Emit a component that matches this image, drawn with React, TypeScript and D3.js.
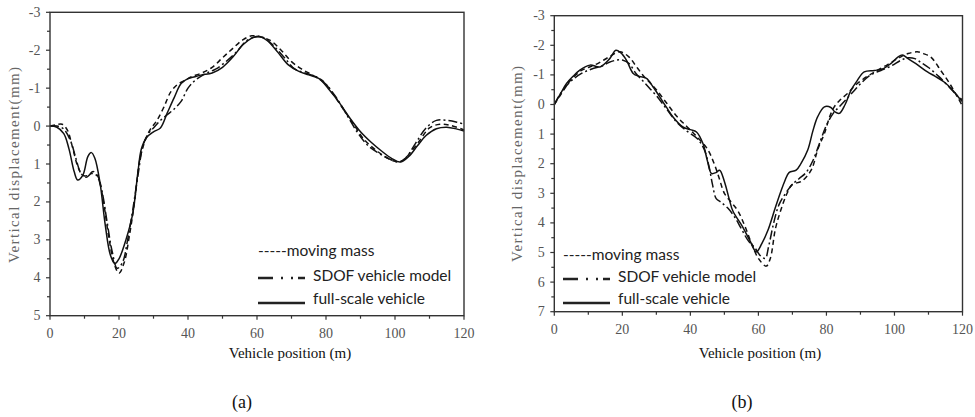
import React from "react";
import * as d3 from "d3";

// ---------- data (a) ----------
const aFullX = [0,2,4,5.5,7,8,9.5,11,12,13,14.5,16,17.5,18.8,20,22,24,25.5,26.5,28,30,32,34,36,38,40,42,44,47,50,53,56,58.5,60.5,63,66,69,72,75,78,81,84,87,90,93,96,99,101.5,104,106.5,109,112,115,118,120];
const aFullY = [0,0.03,0.2,0.6,1.2,1.42,1.3,0.8,0.7,0.85,1.5,2.6,3.4,3.63,3.5,3.0,2.3,1.2,0.6,0.3,0.15,0.05,-0.35,-0.75,-1.12,-1.25,-1.3,-1.35,-1.4,-1.55,-1.82,-2.15,-2.32,-2.37,-2.25,-1.95,-1.62,-1.45,-1.35,-1.25,-0.95,-0.6,-0.2,0.15,0.42,0.65,0.85,0.95,0.8,0.52,0.25,0.07,0.03,0.08,0.13];

const aMassX = [0,2,3.5,5,6.5,8,9.5,11,12.5,14,15.5,17,18.5,20,21.5,23,24.5,26,27.5,29,31,33,35,37,39,41,44,47,50,53,56,58.5,61,64,67,70,73,76,79,82,85,88,91,94,97,100,102,104,107,110,113,116,120];
const aMassY = [0,-0.04,-0.05,0.1,0.55,1.05,1.3,1.3,1.2,1.35,2.0,2.9,3.6,3.88,3.6,2.9,2.0,0.9,0.4,0.1,-0.15,-0.5,-0.9,-1.1,-1.2,-1.3,-1.4,-1.55,-1.8,-2.05,-2.28,-2.38,-2.35,-2.25,-2.0,-1.7,-1.5,-1.35,-1.2,-0.85,-0.45,-0.05,0.35,0.6,0.8,0.93,0.92,0.75,0.4,0.05,-0.05,-0.02,0.1];

const aSdofX = [0,2,4,6,7.5,9,10.5,12,13.5,15,16.5,18,19.5,21,22.5,24,25.5,27,28.5,30,32,34,36,38,40,42,45,48,51,54,57,59.5,62,65,68,71,74,77,80,83,86,89,92,95,98,101,103,106,109,112,115,118,120];
const aSdofY = [0,0,0.08,0.4,0.85,1.25,1.35,1.25,1.3,1.7,2.5,3.3,3.75,3.6,3.0,2.2,1.3,0.5,0.2,0.05,-0.15,-0.3,-0.45,-0.65,-1.0,-1.2,-1.38,-1.5,-1.7,-1.95,-2.25,-2.35,-2.33,-2.1,-1.8,-1.5,-1.4,-1.3,-1.1,-0.75,-0.3,0.15,0.5,0.7,0.85,0.95,0.85,0.45,0.05,-0.15,-0.15,-0.1,-0.05];

// ---------- data (b) ----------
const bFullX = [0,2,3.6,5.5,7.5,10.5,13.4,16.3,18.1,19.5,21.2,23.2,25,27.1,29,31,33,34.9,37.8,40,41.8,43.7,45,46.2,47.5,48.6,50,51.5,52.5,55.4,57.5,59.4,61,62.8,65.2,67.7,69,71.1,72.5,74.5,76,77.4,79.4,81.3,82.5,83.8,85.5,87.2,89,91.1,94.1,96.5,98.9,101,102.3,104,106.3,109.7,112,114.6,117,119.5,120];
const bFullY = [0,-0.4,-0.71,-0.95,-1.16,-1.33,-1.27,-1.55,-1.83,-1.75,-1.5,-1.05,-0.95,-0.88,-0.6,-0.26,0.1,0.42,0.76,0.85,0.93,1.32,1.9,2.33,2.3,2.22,2.6,3.23,3.6,4.14,4.6,4.98,4.7,4.25,3.4,2.6,2.3,2.22,2.0,1.54,0.9,0.42,0.08,0.1,0.25,0.3,0.0,-0.48,-0.8,-1.1,-1.15,-1.2,-1.38,-1.6,-1.67,-1.55,-1.38,-1.1,-0.95,-0.76,-0.5,-0.15,-0.1];

const bMassX = [0,2,5,8,10,13,16,19.3,22,24,26,28,30,33,36,39,42,45,47,48.5,50,52,54,56,58,60,62.3,63.5,65,66.5,68.2,70,72.6,75.5,77.5,79.4,81,82.3,84,86.2,89,92,94.9,98,101.7,104,106.7,108.5,110.7,113.6,116,118.5,120];
const bMassY = [0,-0.35,-0.85,-1.15,-1.25,-1.4,-1.6,-1.78,-1.6,-1.3,-1.0,-0.75,-0.5,-0.05,0.4,0.75,1.1,1.5,2.0,2.5,3.0,3.3,3.6,4.1,4.7,5.2,5.46,5.2,4.2,3.6,3.06,2.7,2.6,2.22,1.5,0.98,0.4,0.08,-0.15,-0.37,-0.7,-0.95,-1.15,-1.35,-1.6,-1.72,-1.78,-1.72,-1.6,-1.15,-0.75,-0.26,0.05];

const bSdofX = [0,2,5,8,11,14,16,18.3,20,22,24,26,28,30,33,36,39,42,44,45.5,46.5,47.6,49,51,53,55,57,59,60.5,62,63,64.5,66,68,70,72,74,76,78,80,82,84,86,88,90,93,96,99,102,104,106,108,110,113,116,118,120];
const bSdofY = [0,-0.4,-0.8,-1.05,-1.2,-1.3,-1.42,-1.5,-1.5,-1.38,-1.05,-0.8,-0.55,-0.3,0.15,0.6,0.9,1.15,1.5,2.1,2.7,3.18,3.3,3.5,3.8,4.2,4.6,4.85,5.1,5.2,4.8,4.0,3.4,3.0,2.7,2.5,2.3,1.9,1.3,0.7,0.3,0.05,-0.2,-0.45,-0.7,-1.0,-1.15,-1.3,-1.5,-1.58,-1.55,-1.4,-1.25,-0.95,-0.6,-0.35,-0.15];

const xTicks = [0, 20, 40, 60, 80, 100, 120];
const aYTicks = [-3, -2, -1, 0, 1, 2, 3, 4, 5];
const bYTicks = [-3, -2, -1, 0, 1, 2, 3, 4, 5, 6, 7];
const legendLabels = ["moving mass", "SDOF vehicle model", "full-scale vehicle"];
const yTitle = "Vertical displacement(mm)";
const xTitle = "Vehicle position (m)";

const SERIF = "'Liberation Serif', 'Times New Roman', 'DejaVu Serif', serif";

type Series = { x: number[]; y: number[]; dash: string };

function Panel(props: {
  left: number; right: number; top: number; bottom: number;
  yDomain: [number, number]; yTicks: number[]; series: Series[];
  yTitleX: number; yTitleY: number; xTitleX: number; legX: number; legY: number[];
  tag: string; tagX: number;
}) {
  const { left, right, top, bottom, yDomain, yTicks, series } = props;
  const x = d3.scaleLinear().domain([0, 120]).range([left, right]);
  const y = d3.scaleLinear().domain(yDomain).range([top, bottom]);
  const minorX = d3.range(0, 121, 10).filter((v) => v % 20 !== 0);
  const minorY = d3.range(yDomain[0], yDomain[1] + 0.01, 0.5).filter((v) => Math.abs(v % 1) > 0.1);
  const line = (s: Series) =>
    d3.line<number>().x((_, i) => x(s.x[i])).y((v) => y(v)).curve(d3.curveCatmullRom.alpha(0.5))(s.y) || "";
  const tickFont = { fontFamily: SERIF, fontSize: 14, fill: "#555" } as const;
  return (
    <g>
      {series.map((s, i) => (
        <path key={i} d={line(s)} fill="none" stroke="#111" strokeWidth={1.5} strokeDasharray={s.dash} />
      ))}
      <rect x={left} y={top} width={right - left} height={bottom - top} fill="none" stroke="#333" strokeWidth={1.4} />
      {xTicks.map((t) => (
        <g key={"xt" + t}>
          <line x1={x(t)} x2={x(t)} y1={bottom} y2={bottom + 4} stroke="#333" strokeWidth={1.2} />
          <text x={x(t)} y={bottom + 22} textAnchor="middle" {...tickFont}>{t}</text>
        </g>
      ))}
      {minorX.map((t) => (
        <line key={"xm" + t} x1={x(t)} x2={x(t)} y1={bottom} y2={bottom + 3} stroke="#333" strokeWidth={1.2} />
      ))}
      {yTicks.map((t) => (
        <g key={"yt" + t}>
          <line x1={left - 4} x2={left} y1={y(t)} y2={y(t)} stroke="#333" strokeWidth={1.2} />
          <text x={left - 9.5} y={y(t) + 4.5} textAnchor="end" {...tickFont}>{t}</text>
        </g>
      ))}
      {minorY.map((t) => (
        <line key={"ym" + t} x1={left - 3} x2={left} y1={y(t)} y2={y(t)} stroke="#333" strokeWidth={1.2} />
      ))}
      <text
        transform={`translate(${props.yTitleX},${props.yTitleY}) rotate(-90)`}
        textAnchor="middle" fontFamily={SERIF} fontSize={15} fill="#666"
        textLength={196} lengthAdjust="spacing"
      >{yTitle}</text>
      <text x={props.xTitleX} y={358} textAnchor="middle" fontFamily={SERIF} fontSize={15} fill="#111">{xTitle}</text>
      <text x={props.tagX} y={408} textAnchor="middle" fontFamily={SERIF} fontSize={18} fill="#111">{props.tag}</text>
      <text x={props.legX} y={props.legY[0]} fontFamily="Lato" fontSize={15.5} fill="#222">{"-----" + legendLabels[0]}</text>
      <line x1={props.legX} x2={props.legX + 47} y1={props.legY[1] - 3} y2={props.legY[1] - 3} stroke="#222" strokeWidth={2.5} strokeDasharray="15 8 2 8 2 5" />
      <text x={props.legX + 55} y={props.legY[1]} fontFamily="Lato" fontSize={15.5} fill="#222">{legendLabels[1]}</text>
      <line x1={props.legX} x2={props.legX + 47} y1={props.legY[2] - 1} y2={props.legY[2] - 1} stroke="#222" strokeWidth={2.5} />
      <text x={props.legX + 55} y={props.legY[2]} fontFamily="Lato" fontSize={15.5} fill="#222">{legendLabels[2]}</text>
    </g>
  );
}

export default function App() {
  const massDash = "5 3.5";
  const sdofDash = "9 3 2 3";
  const aSeries: Series[] = [
    { x: aMassX, y: aMassY, dash: massDash },
    { x: aSdofX, y: aSdofY, dash: sdofDash },
    { x: aFullX, y: aFullY, dash: "" },
  ];
  const bSeries: Series[] = [
    { x: bMassX, y: bMassY, dash: massDash },
    { x: bSdofX, y: bSdofY, dash: sdofDash },
    { x: bFullX, y: bFullY, dash: "" },
  ];
  return (
    <svg width={975} height={417} style={{ position: "absolute", left: 0, top: 0, background: "#fff" }}>
      <rect width={975} height={417} fill="#fff" />
      <Panel left={50} right={464} top={12.3} bottom={315.7} yDomain={[-3, 5]} yTicks={aYTicks} series={aSeries}
        yTitleX={19} yTitleY={165} xTitleX={290} legX={258} legY={[256, 281, 304]} tag="(a)" tagX={242} />
      <Panel left={554.3} right={962.5} top={15.7} bottom={311.7} yDomain={[-3, 7]} yTicks={bYTicks} series={bSeries}
        yTitleX={522} yTitleY={164} xTitleX={760} legX={563} legY={[260, 282, 304]} tag="(b)" tagX={742} />
    </svg>
  );
}
